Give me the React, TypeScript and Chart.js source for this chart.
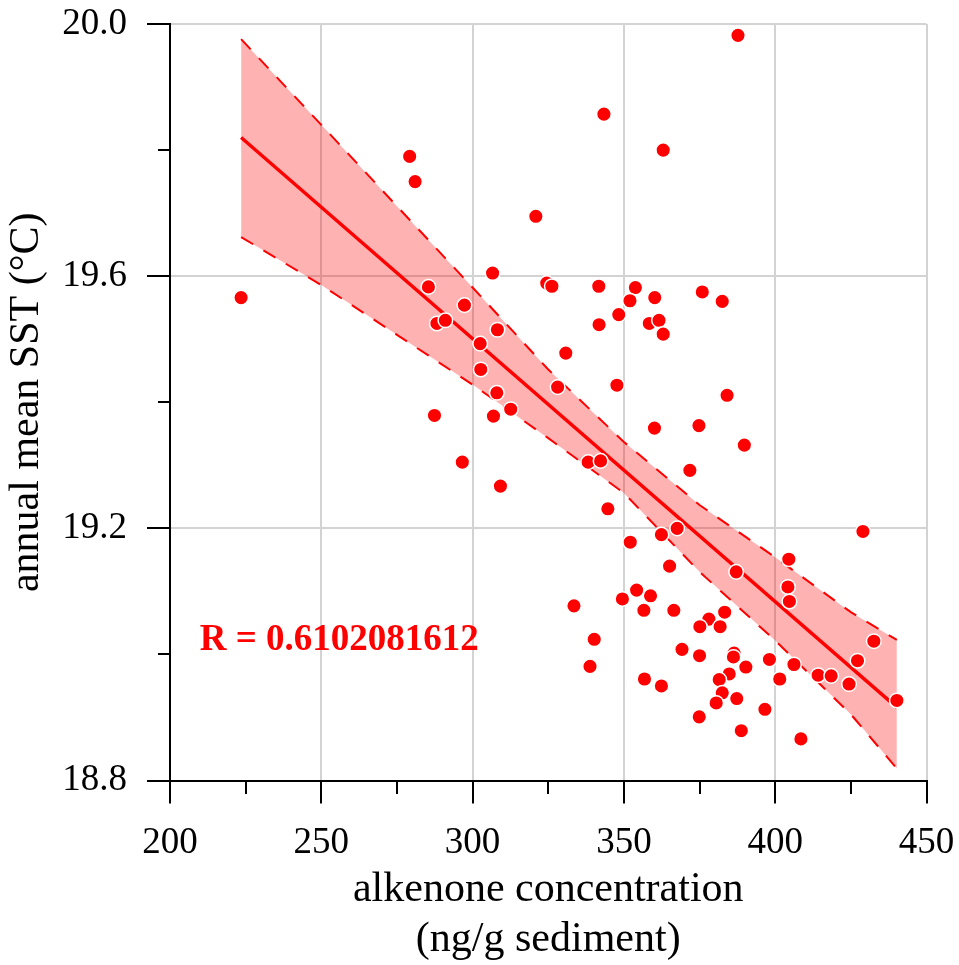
import React, { useEffect, useRef } from "react";
import { Chart, registerables } from "chart.js";

Chart.register(...registerables);

// Sample points (alkenone concentration, annual mean SST)
const pointX = [
  223.5, 279.2, 281.0, 320.9, 306.6, 324.5, 326.2, 285.4, 297.3, 288.2,
  291.0, 308.2, 302.5, 302.7, 308.0, 328.1, 330.8, 387.7, 343.4, 363.0,
  341.7, 353.8, 352.0, 360.2, 375.9, 382.5, 348.3, 341.8, 358.4, 361.6,
  363.0, 347.7, 384.1, 287.4, 306.9, 312.6, 296.6, 309.2, 360.1, 374.8,
  389.8, 338.2, 342.3, 371.8, 344.7, 367.6, 362.4, 352.1, 429.0, 365.1,
  404.5, 387.1, 404.2, 404.7, 354.2, 358.8, 349.5, 333.5, 356.6, 366.5,
  383.3, 378.1, 375.1, 381.8, 340.2, 432.6, 369.2, 375.0, 386.4, 386.2,
  398.1, 427.2, 406.2, 390.3, 338.8, 384.8, 381.5, 401.5, 414.2, 418.5,
  424.4, 356.8, 362.4, 382.5, 387.3, 380.5, 440.2, 396.6, 374.9, 388.8,
  408.5,
];
const pointY = [
  19.566, 19.79, 19.75, 19.695, 19.605, 19.589, 19.584, 19.583, 19.554, 19.525,
  19.53, 19.515, 19.493, 19.452, 19.415, 19.424, 19.478, 19.982, 19.857, 19.8,
  19.584, 19.582, 19.561, 19.566, 19.575, 19.56, 19.539, 19.523, 19.525, 19.53,
  19.508, 19.427, 19.411, 19.379, 19.378, 19.389, 19.305, 19.267, 19.359, 19.363,
  19.332, 19.305, 19.307, 19.292, 19.231, 19.2, 19.19, 19.178, 19.195, 19.14,
  19.151, 19.131, 19.107, 19.084, 19.102, 19.093, 19.088, 19.077, 19.07, 19.07,
  19.067, 19.056, 19.044, 19.044, 19.024, 19.021, 19.008, 18.998, 19.002, 18.996,
  18.992, 18.99, 18.984, 18.98, 18.981, 18.969, 18.96, 18.961, 18.967, 18.966,
  18.953, 18.961, 18.95, 18.939, 18.93, 18.923, 18.927, 18.913, 18.901, 18.879,
  18.866,
];

// Regression line end points
const fitX = [223.5, 440.2];
const fitY = [19.82, 18.916];

// Confidence band
const bandX = [223.5, 250, 275, 300, 325, 350, 375, 400, 425, 440.2];
const bandUpper = [19.976, 19.84, 19.711, 19.582, 19.452, 19.337, 19.237, 19.154, 19.067, 19.023];
const bandLower = [19.662, 19.586, 19.507, 19.428, 19.343, 19.256, 19.131, 19.022, 18.905, 18.819];

// Axis ranges and tick steps
const xRange = [200, 450];
const yRange = [18.8, 20.0];
const xStep = 25;
const yStep = 0.2;

const rLabel = "R = 0.6102081612";
const rLabelAt = { x: 209.8, y: 19.0075 };

const xTitle = ["alkenone concentration", "(ng/g sediment)"];
const yTitle = "annual mean SST (\u00B0C)";

const SERIF = "'Liberation Serif', 'Times New Roman', serif";

export default function App() {
  const ref = useRef<HTMLCanvasElement | null>(null);

  useEffect(() => {
    document.body.style.margin = "0";
    const canvas = ref.current;
    if (!canvas) return;

    const isMajorX = (v: number) => Math.round(v) % 50 === 0;
    const isMajorY = (v: number) => Math.round(v * 10) % 4 === 0;

    const rPlugin = {
      id: "rLabel",
      afterDatasetsDraw(chart: any) {
        const { ctx, scales } = chart;
        const px = scales.x.getPixelForValue(rLabelAt.x);
        const py = scales.y.getPixelForValue(rLabelAt.y);
        ctx.save();
        ctx.font = `bold 37px ${SERIF}`;
        ctx.fillStyle = "#ff0000";
        ctx.textAlign = "left";
        ctx.textBaseline = "alphabetic";
        ctx.fillText(rLabel, px, py);
        ctx.restore();
      },
    };

    const chart = new Chart(canvas, {
      type: "scatter",
      data: {
        datasets: [
          {
            type: "scatter",
            data: pointX.map((x, i) => ({ x, y: pointY[i] })),
            backgroundColor: "#ff0000",
            borderColor: "#ffffff",
            borderWidth: 1.5,
            pointRadius: 7.3,
            order: 0,
          } as any,
          {
            type: "line",
            data: fitX.map((x, i) => ({ x, y: fitY[i] })),
            borderColor: "#ff0000",
            borderWidth: 3.4,
            pointRadius: 0,
            fill: false,
            order: 1,
          },
          {
            type: "line",
            data: bandX.map((x, i) => ({ x, y: bandUpper[i] })),
            borderColor: "#ff0000",
            borderWidth: 2,
            borderDash: [14, 12],
            pointRadius: 0,
            fill: "+1",
            backgroundColor: "rgba(255,0,0,0.3)",
            order: 2,
          },
          {
            type: "line",
            data: bandX.map((x, i) => ({ x, y: bandLower[i] })),
            borderColor: "#ff0000",
            borderWidth: 2,
            borderDash: [14, 12],
            pointRadius: 0,
            fill: false,
            order: 3,
          },
        ],
      },
      options: {
        animation: false,
        responsive: false,
        maintainAspectRatio: false,
        layout: { padding: { left: 0, top: 24, right: 32.5, bottom: 0 } },
        plugins: {
          legend: { display: false },
          tooltip: { enabled: false },
        },
        scales: {
          x: {
            type: "linear",
            min: xRange[0],
            max: xRange[1],
            afterFit(scale: any) {
              scale.height = 184.5;
              scale.paddingLeft = 0;
              scale.paddingRight = 0;
            },
            ticks: {
              stepSize: xStep,
              autoSkip: false,
              maxRotation: 0,
              color: "#000",
              padding: 18,
              font: { family: SERIF, size: 37, lineHeight: 1.2 },
              callback: (v: any) => (isMajorX(Number(v)) ? String(Math.round(Number(v))) : ""),
            },
            grid: {
              color: (c: any) => (isMajorX(c.tick.value) ? "#d3d3d3" : "rgba(0,0,0,0)"),
              lineWidth: 2,
              tickLength: 23,
              tickColor: "#000",
              tickWidth: 2,
              tickBorderDash: (c: any) => (isMajorX(c.tick.value) ? [] : [12, 100]),
            } as any,
            border: { display: true, color: "#000", width: 2 },
            title: {
              display: true,
              text: xTitle,
              color: "#000",
              font: { family: SERIF, size: 42, lineHeight: 1.19 },
              padding: { top: 0, bottom: 0 },
            },
          },
          y: {
            type: "linear",
            min: yRange[0],
            max: yRange[1],
            afterFit(scale: any) {
              scale.width = 170;
              scale.paddingTop = 0;
              scale.paddingBottom = 0;
            },
            ticks: {
              stepSize: yStep,
              autoSkip: false,
              color: "#000",
              padding: 20,
              font: { family: SERIF, size: 37, lineHeight: 1.2 },
              callback: (v: any) => (isMajorY(Number(v)) ? Number(v).toFixed(1) : ""),
            },
            grid: {
              color: (c: any) => (isMajorY(c.tick.value) ? "#d3d3d3" : "rgba(0,0,0,0)"),
              lineWidth: 2,
              tickLength: 23,
              tickColor: "#000",
              tickWidth: 2,
              tickBorderDash: (c: any) => (isMajorY(c.tick.value) ? [] : [0, 11, 12, 100]),
            } as any,
            border: { display: true, color: "#000", width: 2 },
            title: {
              display: true,
              text: yTitle,
              color: "#000",
              font: { family: SERIF, size: 42, lineHeight: 1.2 },
              padding: { top: 2, bottom: 0 },
            },
          },
        },
      } as any,
      plugins: [rPlugin],
    });

    return () => chart.destroy();
  }, []);

  return (
    <div style={{ width: 959, height: 965 }}>
      <canvas ref={ref} width={959} height={965} style={{ display: "block", width: 959, height: 965 }} />
    </div>
  );
}
